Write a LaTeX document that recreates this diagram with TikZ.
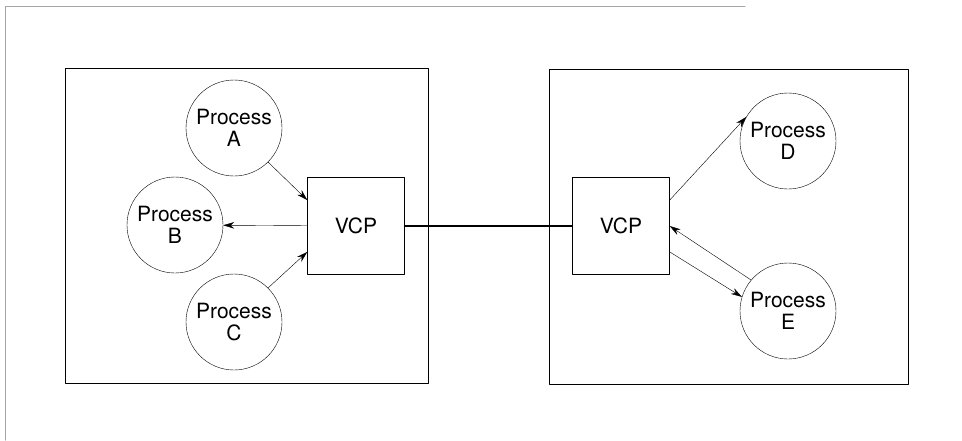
\documentclass[tikz,border=0pt]{standalone}
\usepackage{fontspec}
\setmainfont{TeX Gyre Heros}
\usetikzlibrary{arrows.meta}
\begin{document}
\begin{tikzpicture}[line join = round, line cap = round, >={Stealth[length=11pt, width=6.5pt]}, x = 1pt, y = -1pt,
	proc/.style = {draw, circle, thin, minimum size = 96pt, inner sep = 0pt, align = center, font = \fontsize{21}{21.5}\selectfont},
	vcp/.style = {draw, rectangle, thin, minimum size = 97pt, inner sep = 0pt, font = \fontsize{21}{21.5}\selectfont},
	host/.style = {draw, line width = 1pt}]
			%Khung trang
			\useasboundingbox (0,0) rectangle (962,440);
			\draw[gray!70, line width = 1pt] (745,6) -- (5,6) -- (5,440);
			%Hai máy
			\draw[host] (65,68) rectangle (428,383);
			\draw[host] (549,69) rectangle (908,384);
			%Các tiến trình và VCP
			\node[vcp] (vcpL) at (356,226) {VCP};
			\node[vcp] (vcpR) at (621,226) {VCP};
			\foreach \n/\x/\y in {A/234/128, B/175/225, C/234/322, D/788/141, E/788/311}
			\node[proc] (p\n) at (\x,\y) {Process\\\n};
			%Đường nối hai VCP
			\draw[line width = 1.8pt] (vcpL) -- (vcpR);
			%Các mũi tên
			\draw[->, thin] (pA.-45) -- (vcpL.152);
			\draw[->, thin] (vcpL) -- (pB);
			\draw[->, thin] (pC.45) -- (vcpL.208);
			\draw[->, thin] (vcpR.28) -- (pD.150);
			\draw[->, thin] (pE.140) -- (vcpR.east);
			\draw[->, thin] (vcpR.-28) -- (pE.163);
		\end{tikzpicture}
\end{document}
